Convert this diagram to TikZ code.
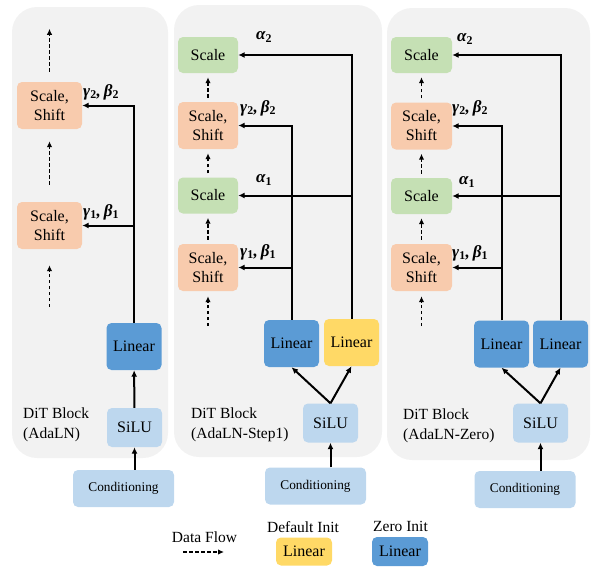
\documentclass[tikz,border=0pt]{standalone}
\usepackage{fontspec}
\setmainfont{Liberation Serif}
\usetikzlibrary{arrows.meta}
\definecolor{panelgray}{HTML}{F2F2F2}
\definecolor{ssorange}{HTML}{F8CBAD}
\definecolor{scgreen}{HTML}{C5E0B4}
\definecolor{zeroblue}{HTML}{5B9BD5}
\definecolor{defyellow}{HTML}{FFD966}
\definecolor{lightblue}{HTML}{BDD7EE}
\newcommand{\gb}[1]{γ\textsubscript{\upshape #1},\,β\textsubscript{\upshape #1}}
\newcommand{\al}[1]{α\textsubscript{\upshape #1}}
\begin{document}
\begin{tikzpicture}[x=1pt,y=-1pt,
  panel/.style={fill=panelgray,rounded corners=25pt},
  box/.style={rounded corners=5pt,inner sep=0pt,align=center,font=\fontsize{16}{19}\selectfont},
  ssbox/.style={box,fill=ssorange,minimum width=61pt,minimum height=47pt},
  scbox/.style={box,fill=scgreen,minimum width=61pt,minimum height=36pt},
  linz/.style={box,fill=zeroblue,minimum width=55pt,minimum height=47pt},
  lind/.style={box,fill=defyellow,minimum width=55pt,minimum height=47pt},
  silubox/.style={box,fill=lightblue,minimum width=55pt,minimum height=39pt},
  condbox/.style={box,fill=lightblue,minimum width=101pt,minimum height=37pt,font=\fontsize{13.3}{15}\selectfont},
  lab/.style={anchor=west,inner sep=0pt,font=\fontsize{17}{19}\selectfont\bfseries\itshape},
  legtxt/.style={inner sep=0pt,font=\fontsize{15.5}{17}\selectfont},
  blocktxt/.style={anchor=west,inner sep=0pt,align=left,font=\fontsize{15.5}{20}\selectfont},
  arr/.style={line width=2pt,-{Latex[length=6.5pt,width=6pt]}},
  flow/.style={line width=1.6pt,dash pattern=on 3.5pt off 2.5pt,-{Latex[length=6pt,width=5.5pt]}}]
  \useasboundingbox (0,0) rectangle (598,571);
  \fill[panel] (12,7) rectangle (168,458);
  \fill[panel] (174,5) rectangle (382,457);
  \fill[panel] (387,8) rectangle (590,460);

  \node[ssbox,minimum width=65pt] (ssa2) at (49.5,105.5) {Scale,\\Shift};
  \node[ssbox,minimum width=65pt] (ssa1) at (49.5,225.5) {Scale,\\Shift};
  \node[linz] (lina) at (134,346.5) {Linear};
  \node[silubox] (silua) at (134.5,427.5) {SiLU};
  \node[condbox] (conda) at (123.5,488.5) {Conditioning};
  \node[blocktxt] (txta) at (23,425) {DiT Block\\(AdaLN)};
  \node[lab] (gba2) at (83,92) {\gb{2}};
  \node[lab] (gba1) at (83,212) {\gb{1}};
  \draw[arr] (conda.north -| silua) -- (silua);
  \draw[arr] (silua) -- (lina);
  \draw[arr] (lina.north) |- (ssa2.east);
  \draw[arr] (lina.north |- ssa1.east) -- (ssa1.east);
  \draw[flow] ([yshift=10pt]ssa2.north) -- ([yshift=53pt]ssa2.north);
  \draw[flow] ([yshift=17pt]ssa1.north) -- ([yshift=-12pt]ssa2.south);
  \draw[flow] ([yshift=-58pt]ssa1.south) -- ([yshift=-16pt]ssa1.south);

  \node[scbox,minimum width=60pt] (scb2) at (208,55) {Scale};
  \node[ssbox,minimum width=60pt] (ssb2) at (208,125.5) {Scale,\\Shift};
  \node[scbox,minimum width=60pt] (scb1) at (208,195.5) {Scale};
  \node[ssbox,minimum width=60pt] (ssb1) at (208,267.5) {Scale,\\Shift};
  \node[linz] (linb) at (291.5,343.5) {Linear};
  \node[lind] (linbb) at (351.5,342.5) {Linear};
  \node[silubox] (silub) at (330.5,423) {SiLU};
  \node[condbox] (condb) at (315.5,486) {Conditioning};
  \node[blocktxt] (txtb) at (191,425) {DiT Block\\(AdaLN-Step1)};
  \node[lab] (alb2) at (256,37) {\al{2}};
  \node[lab] (gbb2) at (240,108) {\gb{2}};
  \node[lab] (alb1) at (256,180) {\al{1}};
  \node[lab] (gbb1) at (240,252) {\gb{1}};
  \draw[arr] (condb.north -| silub) -- (silub);
  \draw[arr] (silub.north) -- (linb.south);
  \draw[arr] (silub.north) -- (linbb.south);
  \draw[arr] (linb.north) |- (ssb2.east);
  \draw[arr] (linb.north |- ssb1.east) -- (ssb1.east);
  \draw[arr] (linbb.north) |- (scb2.east);
  \draw[arr] (linbb.north |- scb1.east) -- (scb1.east);
  \draw[flow] ([yshift=4pt]ssb2.north) -- ([yshift=-4pt]scb2.south);
  \draw[flow] ([yshift=4pt]scb1.north) -- ([yshift=-4pt]ssb2.south);
  \draw[flow] ([yshift=4pt]ssb1.north) -- ([yshift=-4pt]scb1.south);
  \draw[flow] ([yshift=-35pt]ssb1.south) -- ([yshift=-5pt]ssb1.south);

  \node[scbox] (scc2) at (421.5,55) {Scale};
  \node[ssbox] (ssc2) at (421.5,126) {Scale,\\Shift};
  \node[scbox] (scc1) at (421.5,196) {Scale};
  \node[ssbox] (ssc1) at (421.5,267.5) {Scale,\\Shift};
  \node[linz] (linc) at (501.5,344) {Linear};
  \node[linz] (lincc) at (560.5,344) {Linear};
  \node[silubox] (siluc) at (540.5,423) {SiLU};
  \node[condbox] (condc) at (525,489.5) {Conditioning};
  \node[blocktxt] (txtc) at (403,426) {DiT Block\\(AdaLN-Zero)};
  \node[lab] (alc2) at (457,39) {\al{2}};
  \node[lab] (gbc2) at (452,108) {\gb{2}};
  \node[lab] (alc1) at (459,182) {\al{1}};
  \node[lab] (gbc1) at (452,253) {\gb{1}};
  \draw[arr] (condc.north -| siluc) -- (siluc);
  \draw[arr] (siluc.north) -- (linc.south);
  \draw[arr] (siluc.north) -- (lincc.south);
  \draw[arr] (linc.north) |- (ssc2.east);
  \draw[arr] (linc.north |- ssc1.east) -- (ssc1.east);
  \draw[arr] (lincc.north) |- (scc2.east);
  \draw[arr] (lincc.north |- scc1.east) -- (scc1.east);
  \draw[flow] ([yshift=4pt]ssc2.north) -- ([yshift=-4pt]scc2.south);
  \draw[flow] ([yshift=4pt]scc1.north) -- ([yshift=-4pt]ssc2.south);
  \draw[flow] ([yshift=4pt]ssc1.north) -- ([yshift=-4pt]scc1.south);
  \draw[flow] ([yshift=-35pt]ssc1.south) -- ([yshift=-5pt]ssc1.south);

  \node[legtxt] (flowtxt) at (204.5,537) {Data Flow};
  \coordinate (flowa) at (183,552);
  \coordinate (flowb) at (224,552);
  \draw[flow,line width=1.3pt] (flowa) -- (flowb);
  \node[legtxt] (deftxt) at (303,527) {Default Init};
  \node[lind,minimum width=56pt,minimum height=28pt] (deflin) at (304,551.5) {Linear};
  \node[legtxt] (zerotxt) at (400.5,526) {Zero Init};
  \node[linz,minimum width=56pt,minimum height=29pt] (zerolin) at (400,551.5) {Linear};
\end{tikzpicture}
\end{document}
